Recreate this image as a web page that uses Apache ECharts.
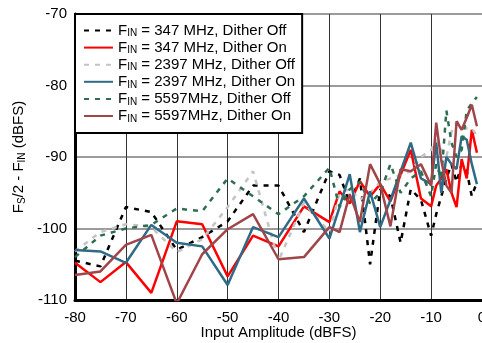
<!DOCTYPE html>
<html>
<head>
<meta charset="utf-8">
<script src="https://cdn.jsdelivr.net/npm/echarts@6/dist/echarts.min.js"></script>
<style>
  html, body { margin: 0; padding: 0; background: #fff; }
  #chart { width: 482px; height: 343px; }
</style>
</head>
<body>
<div id="chart"></div>
<script>
// input amplitude (dBFS)
const amplitude = [-80, -75, -70, -65, -60, -55, -50, -45, -40, -35, -30, -28, -26, -24, -22, -20, -18, -16, -14, -12, -10, -9, -8, -7, -6, -5, -4, -3, -2, -1]

const fin347Off = [-104.5, -105.3, -97, -97.7, -103, -101.2, -99, -94, -94, -100.5, -92, -92.5, -96.5, -93, -105, -94.5, -95.5, -102, -94.5, -96, -101, -98, -95.5, -93, -91, -93.5, -91, -92, -95.5, -93.5]
const fin347On = [-104.8, -107.5, -104.7, -109, -99, -99.4, -106.7, -101, -102.5, -96.9, -99.1, -94.8, -96.5, -93.4, -95.5, -93.8, -96.2, -92.5, -89, -95.8, -96.9, -94, -93, -91.7, -95, -97, -90.3, -93, -86.2, -89.4]
const fin2397Off = [-103.2, -100.5, -99.4, -99.8, -103.3, -101.5, -97, -92, -104.5, -96.4, -100.5, -95, -94.5, -96, -95, -93.5, -93, -92.5, -92, -90, -89, -87.6, -89, -90, -86.5, -85.2, -85.2, -86, -86, -87]
const fin2397On = [-103, -103.2, -104.8, -99.5, -102, -102.5, -107.9, -99.8, -101.2, -95.8, -101.4, -97, -92.4, -100.5, -94.8, -99.8, -96, -92, -88, -93, -93.8, -88, -95, -90, -91, -91.7, -87.1, -87.6, -91, -93.8]
const fin5597Off = [-104, -101, -100, -99.5, -97.2, -97.6, -93, -95.5, -98, -95.5, -91.5, -97, -94.5, -93.5, -96.5, -95, -91, -95, -93, -92, -95.5, -91, -93, -83.5, -88, -90, -89, -83.5, -82.5, -81.6]
const fin5597On = [-106.5, -106, -102.3, -100.9, -110.5, -103.6, -100.1, -98, -104.3, -104, -99.8, -100.5, -95.2, -99.1, -91, -93.8, -99.7, -91.7, -92, -91, -94, -85.2, -90.5, -94, -95, -85, -86.2, -84.5, -82.7, -85.7]

const seriesNames = ['347 MHz, Dither Off', '347 MHz, Dither On', '2397 MHz, Dither Off', '2397 MHz, Dither On', '5597MHz, Dither Off', '5597MHz, Dither On']

const FONT = 'Liberation Sans, Arial, sans-serif'

const pairs = (vals) => amplitude.map((x, i) => [x, vals[i]])

const lineSeries = (name, vals, color, dashed) => ({
  name,
  type: 'line',
  data: pairs(vals),
  symbol: 'none',
  lineStyle: { color, width: 2.5, type: dashed ? [5, 6] : 'solid' },
  itemStyle: { color },
  emphasis: { disabled: true },
})

// F + subscript, shared by legend and y axis name
const richText = {
  a: { fontSize: 15, lineHeight: 16, fontFamily: FONT, color: '#000' },
  s: { fontSize: 10, lineHeight: 10, verticalAlign: 'bottom', fontFamily: FONT, color: '#000' },
}

const chart = echarts.init(document.getElementById('chart'))

chart.setOption({
  animation: false,
  backgroundColor: '#fff',
  grid: { left: 75, right: 0, top: 14, bottom: 43, outerBoundsMode: 'none' },
  legend: {
    orient: 'vertical',
    left: 75,
    top: 14,
    padding: [9, 7, 9, 8],
    itemGap: 1.6,
    itemWidth: 29,
    itemHeight: 14,
    backgroundColor: '#fff',
    borderColor: '#000',
    borderWidth: 2,
    itemStyle: { opacity: 0 },
    data: seriesNames,
    formatter: (name) => '{a|F}{s|IN}{a| = ' + name + '}',
    textStyle: { color: '#000', fontFamily: FONT, rich: richText },
  },
  xAxis: {
    type: 'value',
    min: -80,
    max: 0,
    interval: 10,
    name: 'Input Amplitude (dBFS)',
    nameLocation: 'middle',
    nameGap: 25,
    nameMoveOverlap: false,
    nameTextStyle: { color: '#000', fontSize: 15, fontFamily: FONT },
    axisLine: { onZero: false, lineStyle: { color: '#000', width: 3 } },
    axisTick: { show: false },
    axisLabel: { color: '#000', fontSize: 15, fontFamily: FONT, margin: 10 },
    splitLine: { lineStyle: { color: '#333', width: 1 } },
  },
  yAxis: {
    type: 'value',
    min: -110,
    max: -70,
    interval: 10,
    name: '{a|F}{s|S}{a|/2 - F}{s|IN}{a| (dBFS)}',
    nameLocation: 'middle',
    nameGap: 48,
    nameMoveOverlap: false,
    nameTextStyle: { color: '#000', fontFamily: FONT, rich: richText },
    axisLine: { show: true, onZero: false, lineStyle: { color: '#000', width: 3 } },
    axisTick: { show: false },
    axisLabel: { color: '#000', fontSize: 15, fontFamily: FONT, margin: 8 },
    splitLine: { lineStyle: { color: '#7a7a7a', width: 1.5 } },
  },
  series: [
    lineSeries(seriesNames[0], fin347Off, '#000000', true),
    lineSeries(seriesNames[1], fin347On, '#ff0000', false),
    lineSeries(seriesNames[2], fin2397Off, '#c4c4c4', true),
    lineSeries(seriesNames[3], fin2397On, '#2f6a86', false),
    lineSeries(seriesNames[4], fin5597Off, '#2e6e4e', true),
    lineSeries(seriesNames[5], fin5597On, '#a0464a', false),
  ],
})

window.addEventListener('resize', () => chart.resize())
</script>
</body>
</html>
